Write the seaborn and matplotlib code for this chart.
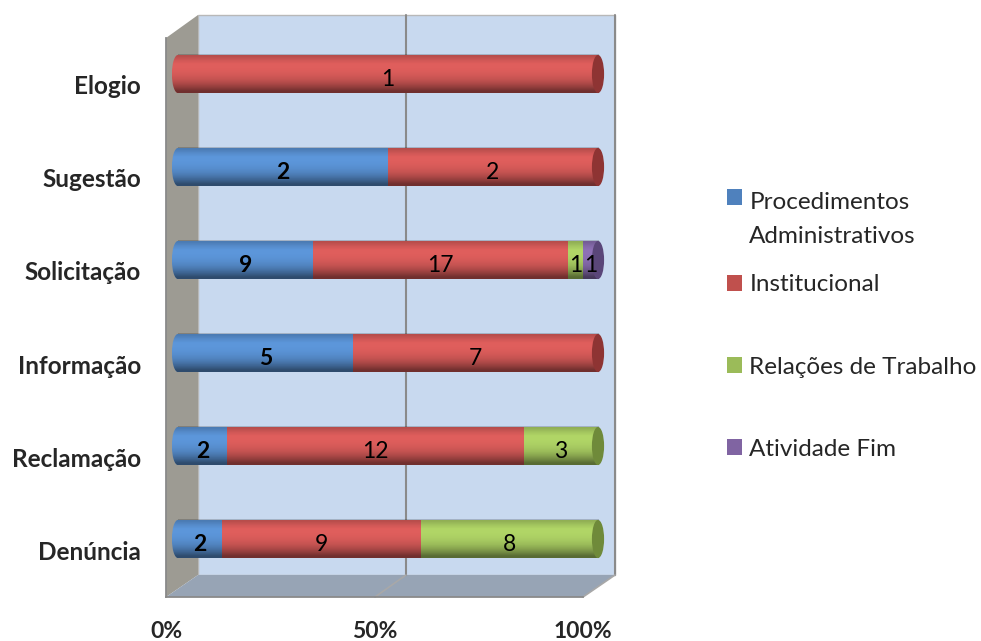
import matplotlib
matplotlib.use("Agg")
import matplotlib.pyplot as plt
from matplotlib.patches import Polygon, Rectangle, Patch, Ellipse
import seaborn as sns
import pandas as pd
import numpy as np

# chart data (counts per category and series)
categories = ["Elogio", "Sugestão", "Solicitação", "Informação", "Reclamação", "Denúncia"]
series = ["Procedimentos\nAdministrativos", "Institucional", "Relações de Trabalho", "Atividade Fim"]
proc = [0, 2, 9, 5, 2, 2]
inst = [1, 2, 17, 7, 12, 9]
rel = [0, 0, 1, 0, 3, 8]
ativ = [0, 0, 1, 0, 0, 0]
x_ticks = [0, 50, 100]

colors = ["#5c96da", "#df5e5c", "#b0d566", "#8d70b5"]
cap_colors = ["#3d6796", "#8e3433", "#6f8a3a", "#5a4679"]
legend_colors = ["#4f81bd", "#c0504d", "#9bbb59", "#8064a2"]

W, H = 981, 641


def fx(px):
    return px / W


def fy(py):
    return 1 - py / H


sns.set_style("white")
plt.rcParams["font.family"] = ["Lato", "DejaVu Sans"]

fig = plt.figure(figsize=(W / 100, H / 100), dpi=100)

# fake 3D walls, like the Excel chart
wall = "#c8d9ef"
side = "#9d9b93"
floor = "#97a4b5"
grid = "#8a8a8a"
fig.add_artist(Rectangle((fx(198), fy(575)), fx(615) - fx(198), fy(15) - fy(575),
                         transform=fig.transFigure, facecolor=wall, edgecolor="#b8b8b8", lw=1, zorder=0))
fig.add_artist(Polygon([(fx(166), fy(38)), (fx(198), fy(15)), (fx(198), fy(575)), (fx(166), fy(597))],
                       transform=fig.transFigure, facecolor=side, edgecolor="none", zorder=0))
fig.add_artist(Polygon([(fx(166), fy(597)), (fx(198), fy(575)), (fx(615), fy(575)), (fx(583), fy(597))],
                       transform=fig.transFigure, facecolor=floor, edgecolor="none", zorder=0))
for x0, x1 in [(375, 406), (583, 615)]:
    fig.add_artist(plt.Line2D([fx(x1), fx(x1)], [fy(575), fy(15)], transform=fig.transFigure,
                              color=grid, lw=1.5, zorder=0))
    fig.add_artist(plt.Line2D([fx(x0), fx(x1)], [fy(597), fy(575)], transform=fig.transFigure,
                              color="#a8a8a8", lw=1.2, zorder=0))

# front axis: ticks, percent labels and category labels
axf = fig.add_axes([fx(166), fy(597), fx(583) - fx(166), fy(38) - fy(597)])
axf.patch.set_visible(False)
axf.set_xlim(0, 100)
axf.set_ylim(len(categories), 0)
axf.set_xticks(x_ticks)
axf.set_xticklabels([f"{t}%" for t in x_ticks], fontsize=16.5, fontweight="bold")
axf.set_yticks(range(len(categories) + 1))
axf.set_yticklabels([])
axf.set_yticks(np.arange(len(categories)) + 0.5, minor=True)
axf.set_yticklabels(categories, minor=True, fontsize=17.5, fontweight="bold")
axf.tick_params(axis="y", which="minor", length=0, pad=18)
axf.tick_params(axis="y", which="major", length=5, color=grid, direction="out")
axf.tick_params(axis="x", length=6, color=grid, pad=11)
for s in ["top", "right"]:
    axf.spines[s].set_visible(False)
for s in ["left", "bottom"]:
    axf.spines[s].set_color(grid)
    axf.spines[s].set_linewidth(1.3)

# bars, 100% stacked
df = pd.DataFrame({"cat": categories, "p": proc, "i": inst, "r": rel, "a": ativ})
keys = ["p", "i", "r", "a"]
tot = df[keys].sum(axis=1)
pct = df[keys].div(tot, axis=0) * 100
left = pct.cumsum(axis=1) - pct

bw = 0.41
cap = 2.9
# x = -cap/2 .. 100 spans pixel 171.9 .. 598
ax = fig.add_axes([fx(171.9), fy(585.5), fx(598) - fx(171.9), fy(27.5) - fy(585.5)])
ax.patch.set_visible(False)
raw = [proc, inst, rel, ativ]

# cylinder shading profile (top -> bottom)
shade = np.array([0.18, 0.08, 0.0, 0.0, 0.02, 0.06, 0.12, 0.22, 0.35, 0.5])
img = np.zeros((len(shade), 1, 4))
img[:, 0, 3] = shade

# rounded left end of each cylinder
for i in range(len(categories)):
    first = min(k for k, c in enumerate(keys) if pct[c].iloc[i] > 0)
    el = Ellipse((0, i), cap, bw, facecolor=colors[first], edgecolor="none", zorder=1)
    ax.add_patch(el)
    im = ax.imshow(img, extent=(-cap / 2, 0, i + bw / 2, i - bw / 2), aspect="auto", origin="upper",
                   interpolation="bilinear", zorder=1.5)
    im.set_clip_path(el)

for k, col in enumerate(keys):
    sns.barplot(x=pct[col].values, y=df["cat"], order=categories, orient="h", left=left[col].values,
                color=colors[k], saturation=1, linewidth=0, width=bw,
                errorbar=None, ax=ax, zorder=2)

for i in range(len(categories)):
    ax.imshow(img, extent=(0, 100, i + bw / 2, i - bw / 2), aspect="auto", origin="upper",
              interpolation="bilinear", zorder=3)
    last = max(k for k, c in enumerate(keys) if pct[c].iloc[i] > 0)
    ax.add_patch(Ellipse((100, i), cap, bw, facecolor=cap_colors[last], edgecolor="none",
                         zorder=4, clip_on=False))

for k in range(len(keys)):
    labels = [str(v) if v else "" for v in raw[k]]
    anns = ax.bar_label(ax.containers[k], labels=labels, label_type="center", fontsize=16.5,
                        fontweight="bold" if k == 0 else "normal", color="black", zorder=5)
    for a in anns:
        a.xyann = (0, -4)

ax.set_xlim(-cap / 2, 100)
ax.set_ylim(len(categories) - 0.5, -0.5)
ax.set_xlabel("")
ax.set_ylabel("")
ax.set_xticks([])
ax.set_yticks([])
sns.despine(ax=ax, left=True, bottom=True)

# legend: first entry (two lines) and the rest
handles = [Patch(facecolor=c, edgecolor="none") for c in legend_colors]
kw = dict(frameon=False, fontsize=17.5, handlelength=0.62, handleheight=0.62,
          handletextpad=0.3, borderaxespad=0, borderpad=0)
legA = fig.legend(handles[:1], series[:1], loc="center left", bbox_to_anchor=(fx(727), fy(219.5)), **kw)
legA.get_texts()[0].set_linespacing(1.75)
legA.legend_handles[0].set_y(legA.legend_handles[0].get_y() + 16)
legB = fig.legend(handles[1:], series[1:], loc="center left", bbox_to_anchor=(fx(727), fy(367)),
                  labelspacing=2.52, **kw)

fig.savefig("out.png", dpi=100)
